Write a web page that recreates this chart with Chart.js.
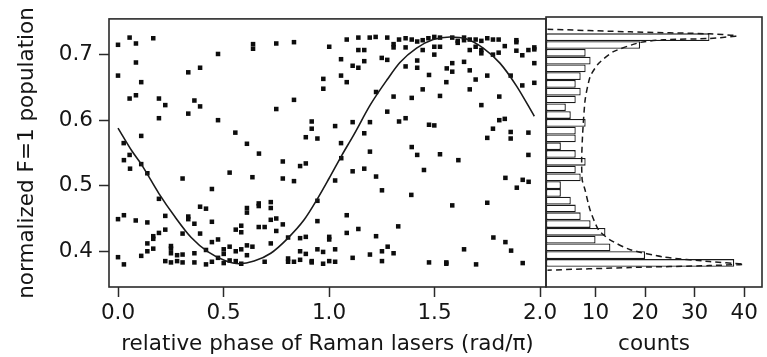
<!DOCTYPE html>
<html>
<head>
<meta charset="utf-8">
<script src="https://cdn.jsdelivr.net/npm/chart.js@4.4.0/dist/chart.umd.min.js"></script>
<style>
  html, body { margin: 0; padding: 0; background: #fff; }
  #wrap { position: relative; width: 767px; height: 357px; }
  #wrap canvas { position: absolute; left: 0; top: 0; }
</style>
</head>
<body>
<div id="wrap">
  <canvas id="phaseChart" width="767" height="357"></canvas>
  <canvas id="countChart" width="767" height="357"></canvas>
</div>
<script>
// measured points: [relative phase (rad/pi), normalized F=1 population]
const measured = [
  [0.00,0.715],[0.055,0.726],[0.085,0.717],[0.167,0.725],[0.474,0.701],[0.64,0.716],[0.64,0.709],
  [0.085,0.688],[0.00,0.668],[0.333,0.673],[0.389,0.680],[0.11,0.658],[0.055,0.633],[0.085,0.638],
  [0.194,0.633],[0.224,0.623],[0.362,0.630],[0.389,0.621],[0.194,0.603],[0.333,0.610],[0.474,0.600],
  [0.11,0.576],[0.556,0.581],[0.611,0.564],[0.027,0.565],[0.055,0.547],
  [0.028,0.539],[0.057,0.526],[0.11,0.533],[0.139,0.519],[0.306,0.511],[0.529,0.520],[0.637,0.513],
  [0.445,0.495],[0.194,0.480],[0.389,0.468],[0.417,0.465],[0.611,0.466],[0.611,0.459],[0.0,0.449],
  [0.028,0.455],[0.084,0.447],[0.139,0.444],[0.224,0.454],[0.333,0.453],[0.333,0.449],[0.362,0.442],
  [0.445,0.445],[0.558,0.433],[0.584,0.439],[0.584,0.429],[0.224,0.433],[0.194,0.428],[0.167,0.423],
  [0.167,0.419],[0.139,0.412],[0.139,0.400],[0.167,0.404],[0.11,0.393],[0.0,0.391],[0.028,0.380],
  [0.306,0.427],[0.389,0.427],[0.445,0.414],[0.474,0.418],[0.251,0.408],[0.251,0.404],[0.251,0.397],
  [0.28,0.394],[0.306,0.395],[0.362,0.397],[0.417,0.402],[0.501,0.403],[0.529,0.407],[0.558,0.400],
  [0.584,0.403],[0.611,0.409],[0.637,0.407],[0.224,0.385],[0.251,0.383],[0.28,0.385],[0.306,0.383],
  [0.362,0.383],[0.417,0.380],[0.445,0.384],[0.474,0.390],[0.501,0.396],[0.501,0.382],[0.529,0.386],
  [0.558,0.385],[0.584,0.381],[0.611,0.394],
  [0.750,0.717],[0.834,0.719],[1.001,0.712],[1.084,0.723],[1.139,0.726],[1.193,0.726],[1.221,0.727],
  [1.276,0.726],[1.306,0.716],[1.306,0.711],[1.332,0.723],[1.139,0.707],[1.167,0.707],[1.057,0.693],
  [1.167,0.690],[1.112,0.683],[1.139,0.680],[1.250,0.695],[1.276,0.692],[0.973,0.663],[1.057,0.668],
  [1.084,0.658],[0.973,0.648],[0.834,0.631],[0.750,0.617],[1.223,0.643],[1.306,0.636],[1.276,0.613],
  [1.332,0.598],[0.918,0.598],[0.918,0.587],[1.029,0.591],[1.112,0.597],[1.194,0.597],[1.167,0.580],
  [0.890,0.574],[0.945,0.572],[1.057,0.565],[1.194,0.552],[0.668,0.549],
  [0.781,0.537],[0.863,0.530],[0.890,0.534],[1.058,0.542],[0.781,0.511],[0.834,0.507],[1.029,0.508],
  [1.112,0.522],[1.167,0.526],[1.223,0.514],[1.251,0.493],[0.667,0.473],[0.667,0.469],[0.724,0.475],
  [0.724,0.466],[0.945,0.477],[0.667,0.437],[0.695,0.437],[0.724,0.448],[0.750,0.450],[0.750,0.431],
  [0.781,0.441],[0.724,0.412],[0.806,0.421],[0.863,0.420],[0.890,0.422],[0.945,0.446],[1.001,0.422],
  [1.001,0.418],[1.084,0.455],[1.084,0.428],[1.139,0.434],[1.223,0.423],[1.328,0.438],[0.695,0.384],
  [0.806,0.389],[0.806,0.384],[0.834,0.384],[0.863,0.400],[0.863,0.387],[0.890,0.396],[0.918,0.385],
  [0.918,0.383],[0.945,0.403],[0.972,0.399],[0.972,0.381],[1.001,0.385],[1.029,0.403],[1.029,0.384],
  [1.112,0.390],[1.194,0.395],[1.251,0.400],[1.278,0.407],[1.306,0.397],[1.251,0.385],
  [1.363,0.725],[1.392,0.723],[1.418,0.720],[1.444,0.722],[1.471,0.725],[1.499,0.727],[1.526,0.726],
  [1.584,0.726],[1.610,0.721],[1.610,0.718],[1.640,0.726],[1.640,0.722],[1.667,0.723],[1.695,0.723],
  [1.722,0.721],[1.750,0.725],[1.777,0.723],[1.804,0.723],[1.888,0.722],[1.888,0.719],[1.973,0.711],
  [1.973,0.708],[1.945,0.707],[1.888,0.706],[1.916,0.699],[1.833,0.713],[1.804,0.703],[1.777,0.700],
  [1.722,0.707],[1.722,0.702],[1.695,0.712],[1.667,0.707],[1.363,0.711],[1.499,0.712],[1.526,0.712],
  [1.444,0.707],[1.499,0.700],[1.418,0.691],[1.363,0.682],[1.418,0.680],[1.558,0.679],[1.584,0.687],
  [1.584,0.674],[1.640,0.689],[1.667,0.676],[1.695,0.662],[1.750,0.668],[1.861,0.668],[1.916,0.653],
  [1.973,0.657],[1.973,0.687],[1.474,0.669],[1.556,0.658],[1.444,0.647],[1.667,0.647],[1.392,0.634],
  [1.526,0.637],[1.807,0.636],[1.722,0.623],[1.363,0.603],[1.474,0.593],[1.499,0.592],[1.807,0.600],
  [1.833,0.602],[1.777,0.587],[1.861,0.582],[1.945,0.581],[1.750,0.573],[1.861,0.572],[1.392,0.559],
  [1.418,0.547],[1.526,0.548],[1.945,0.547],
  [1.613,0.539],[1.450,0.524],[1.836,0.512],[1.890,0.497],[1.918,0.509],[1.946,0.506],[1.390,0.486],
  [1.584,0.470],[1.750,0.474],[1.779,0.421],[1.836,0.414],[1.863,0.401],[1.640,0.403],[1.474,0.383],
  [1.556,0.383],[1.556,0.381],[1.697,0.380],[1.918,0.382]
];

// fitted curve
const fitPhase = [0.0,0.066,0.11,0.194,0.269,0.347,0.427,0.506,0.575,0.645,0.724,0.802,0.882,0.945,
                  1.0,1.06,1.118,1.197,1.276,1.336,1.415,1.494,1.573,1.652,1.731,1.810,1.889,1.973];
const fitPop   = [0.588,0.553,0.533,0.488,0.453,0.421,0.399,0.386,0.381,0.385,0.397,0.419,0.448,0.480,
                  0.511,0.546,0.578,0.624,0.662,0.688,0.710,0.723,0.727,0.724,0.710,0.687,0.652,0.606];

// histogram bins (centre of each bin) and counts, top to bottom
const binCentres = [0.7239,0.7121,0.7003,0.6885,0.6767,0.6649,0.6532,0.6414,0.6296,0.6178,
                    0.6060,0.5942,0.5824,0.5706,0.5588,0.5470,0.5352,0.5234,0.5116,0.4998,
                    0.4880,0.4763,0.4645,0.4527,0.4409,0.4291,0.4173,0.4055,0.3937,0.3819];
const binCounts  = [33,19,8,9,8,7,6,7,6,4,5,8,6,6,3,6,8,6,7,3,3,5,6,7,9,12,10,13,20,38];

// expected distribution (dashed)
const distCounts = [0.3,17,33,38.5,33,23.7,19,13.6,10.6,8.9,7.9,7.4,7.2,7.3,7.9,8.9,10.6,12.9,17,23.7,33,39.9,33,17,0.3];
const distPop    = [0.736,0.732,0.729,0.726,0.722,0.720,0.716,0.702,0.684,0.664,0.629,0.578,0.540,0.508,
                    0.492,0.462,0.432,0.417,0.402,0.391,0.384,0.380,0.378,0.375,0.371];

const phaseTicks = [0, 0.5, 1.0, 1.5, 2.0];
const popTicks = [0.4, 0.5, 0.6, 0.7];
const countTicks = [10, 20, 30, 40];

const popMin = 0.3455, popMax = 0.7545;
const ink = '#151515';
const font = { family: "'DejaVu Sans', sans-serif", size: 21.5 };

// box around each plot area
const framePlugin = {
  id: 'frame',
  afterDatasetsDraw(chart) {
    const { ctx, chartArea: a } = chart;
    ctx.save();
    ctx.strokeStyle = '#2a2a2a';
    ctx.lineWidth = 1.6;
    ctx.strokeRect(a.left, a.top, a.right - a.left, a.bottom - a.top);
    ctx.restore();
  }
};

const tickGrid = { drawOnChartArea: false, drawTicks: true, tickLength: 10, tickColor: '#2a2a2a', tickWidth: 1.5, color: '#2a2a2a' };

new Chart(document.getElementById('phaseChart'), {
  type: 'scatter',
  data: {
    datasets: [
      {
        data: measured.map(p => ({ x: p[0], y: p[1] })),
        pointStyle: 'rect',
        pointRadius: 3.2,
        backgroundColor: '#0d0d0d',
        borderWidth: 0,
        order: 2
      },
      {
        type: 'line',
        data: fitPhase.map((x, i) => ({ x, y: fitPop[i] })),
        borderColor: '#1a1a1a',
        borderWidth: 1.6,
        pointRadius: 0,
        cubicInterpolationMode: 'monotone',
        fill: false,
        order: 1
      }
    ]
  },
  options: {
    responsive: false,
    animation: false,
    devicePixelRatio: 1,
    layout: { padding: { left: 0, right: 221, top: 17, bottom: 0 } },
    plugins: { legend: { display: false }, tooltip: { enabled: false } },
    scales: {
      x: {
        type: 'linear',
        min: -0.0427,
        max: 2.0284,
        afterBuildTicks: s => { s.ticks = phaseTicks.map(v => ({ value: v })); },
        afterFit: s => { s.height = 70; },
        grid: tickGrid,
        border: { display: false },
        ticks: { font, color: ink, padding: 4, maxRotation: 0, autoSkip: false, callback: v => Number(v).toFixed(1) },
        title: { display: true, text: 'relative phase of Raman lasers (rad/π)', font, color: ink, padding: { top: 0, bottom: 0 } }
      },
      y: {
        type: 'linear',
        min: popMin,
        max: popMax,
        afterBuildTicks: s => { s.ticks = popTicks.map(v => ({ value: v })); },
        afterFit: s => { s.width = 109; },
        grid: tickGrid,
        border: { display: false },
        ticks: { font, color: ink, padding: 6, callback: v => Number(v).toFixed(1) },
        title: { display: true, text: 'normalized F=1 population', font, color: ink, padding: { top: 15, bottom: 0 } }
      }
    }
  },
  plugins: [framePlugin]
});

new Chart(document.getElementById('countChart'), {
  type: 'bar',
  data: {
    datasets: [
      {
        type: 'bar',
        data: binCentres.map((y, i) => ({ x: binCounts[i], y })),
        backgroundColor: '#fff',
        borderColor: '#1a1a1a',
        borderWidth: 1.3,
        borderSkipped: false,
        inflateAmount: 0,
        barPercentage: 1,
        categoryPercentage: 1,
        order: 2
      },
      {
        type: 'line',
        data: distCounts.map((x, i) => ({ x, y: distPop[i] })),
        borderColor: '#1a1a1a',
        borderWidth: 1.5,
        borderDash: [6, 4],
        pointRadius: 0,
        tension: 0.2,
        fill: false,
        order: 1
      }
    ]
  },
  options: {
    indexAxis: 'y',
    responsive: false,
    animation: false,
    devicePixelRatio: 1,
    layout: { padding: { left: 546, right: 5, top: 17, bottom: 0 } },
    plugins: { legend: { display: false }, tooltip: { enabled: false } },
    scales: {
      x: {
        type: 'linear',
        min: 0,
        max: 43.6,
        afterBuildTicks: s => { s.ticks = countTicks.map(v => ({ value: v })); },
        afterFit: s => { s.height = 70; },
        grid: tickGrid,
        border: { display: false },
        ticks: { font, color: ink, padding: 4, maxRotation: 0, autoSkip: false },
        title: { display: true, text: 'counts', font, color: ink, padding: { top: 0, bottom: 0 } }
      },
      y: {
        type: 'linear',
        display: false,
        offset: false,
        min: popMin,
        max: popMax,
        afterBuildTicks: s => { s.ticks = popTicks.map(v => ({ value: v })); }
      }
    }
  },
  plugins: [framePlugin]
});
</script>
</body>
</html>
